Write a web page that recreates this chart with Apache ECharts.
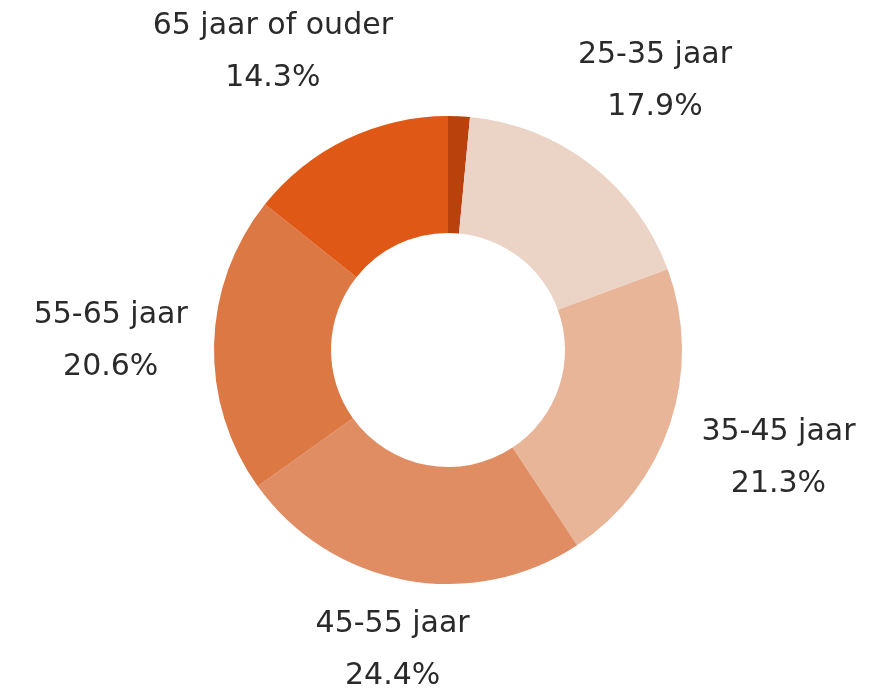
<!DOCTYPE html>
<html>
<head>
<meta charset="utf-8">
<script src="https://cdn.jsdelivr.net/npm/echarts@6/dist/echarts.min.js"></script>
<style>
html,body{margin:0;padding:0;background:#fff;}
#chart{width:884px;height:695px;}
</style>
</head>
<body>
<div id="chart"></div>
<script>
// Data (percent of respondents by age group)
var categories = ['jonger dan 25 jaar', '25-35 jaar', '35-45 jaar', '45-55 jaar', '55-65 jaar', '65 jaar of ouder'];
var values = [1.5, 17.9, 21.3, 24.4, 20.6, 14.3];
var showLabel = [false, true, true, true, true, true];

// Styles
var colors = ['#b9410c', '#ebd4c6', '#e8b598', '#e08d63', '#dc7843', '#e05816'];
var CENTER = [448, 350];
var R_OUT = 234, R_IN = 117;
var GAP_X = 25, GAP_Y = 2;
var CHART_H = 695;

var total = values.reduce(function (a, b) { return a + b; }, 0);
var midAngles = [];
(function () {
  var acc = 0;
  for (var i = 0; i < values.length; i++) {
    midAngles.push((acc + values[i] / 2) / total * Math.PI * 2);
    acc += values[i];
  }
})();

var chart = echarts.init(document.getElementById('chart'));
chart.setOption({
  backgroundColor: '#ffffff',
  animation: false,
  series: [{
    type: 'pie',
    center: CENTER,
    radius: [R_IN, R_OUT],
    startAngle: 90,
    clockwise: true,
    avoidLabelOverlap: false,
    color: colors,
    itemStyle: { borderWidth: 0 },
    label: {
      show: true,
      position: 'outside',
      fontFamily: 'DejaVu Sans',
      fontSize: 30,
      lineHeight: 52,
      color: '#2a2a2a',
      formatter: function (p) { return p.name + '\n' + values[p.dataIndex].toFixed(1) + '%'; }
    },
    labelLine: { show: false },
    labelLayout: function (params) {
      var i = params.dataIndex;
      var a = midAngles[i];
      var sx = Math.sin(a), sy = -Math.cos(a);
      var w = params.labelRect.width / 2, h = params.labelRect.height / 2;
      var ax = Math.abs(sx), ay = Math.abs(sy);
      var d = R_OUT + GAP_X * ax + GAP_Y * ay + w * ax + h * ay;
      var x = CENTER[0] + d * sx, y = CENTER[1] + d * sy;
      // keep the label block inside the chart area, sliding along the label circle
      var yc = Math.min(Math.max(y, h), CHART_H - h + 8);
      if (yc !== y) {
        var dy = yc - CENTER[1];
        var dx = Math.sqrt(Math.max(d * d - dy * dy, 0));
        x = CENTER[0] + (sx < 0 ? -dx : dx);
        y = yc;
      }
      return { x: x, y: y, align: 'center', verticalAlign: 'middle' };
    },
    emphasis: { disabled: true },
    data: categories.map(function (c, i) {
      return { name: c, value: values[i], label: { show: showLabel[i] } };
    })
  }]
});
</script>
</body>
</html>
